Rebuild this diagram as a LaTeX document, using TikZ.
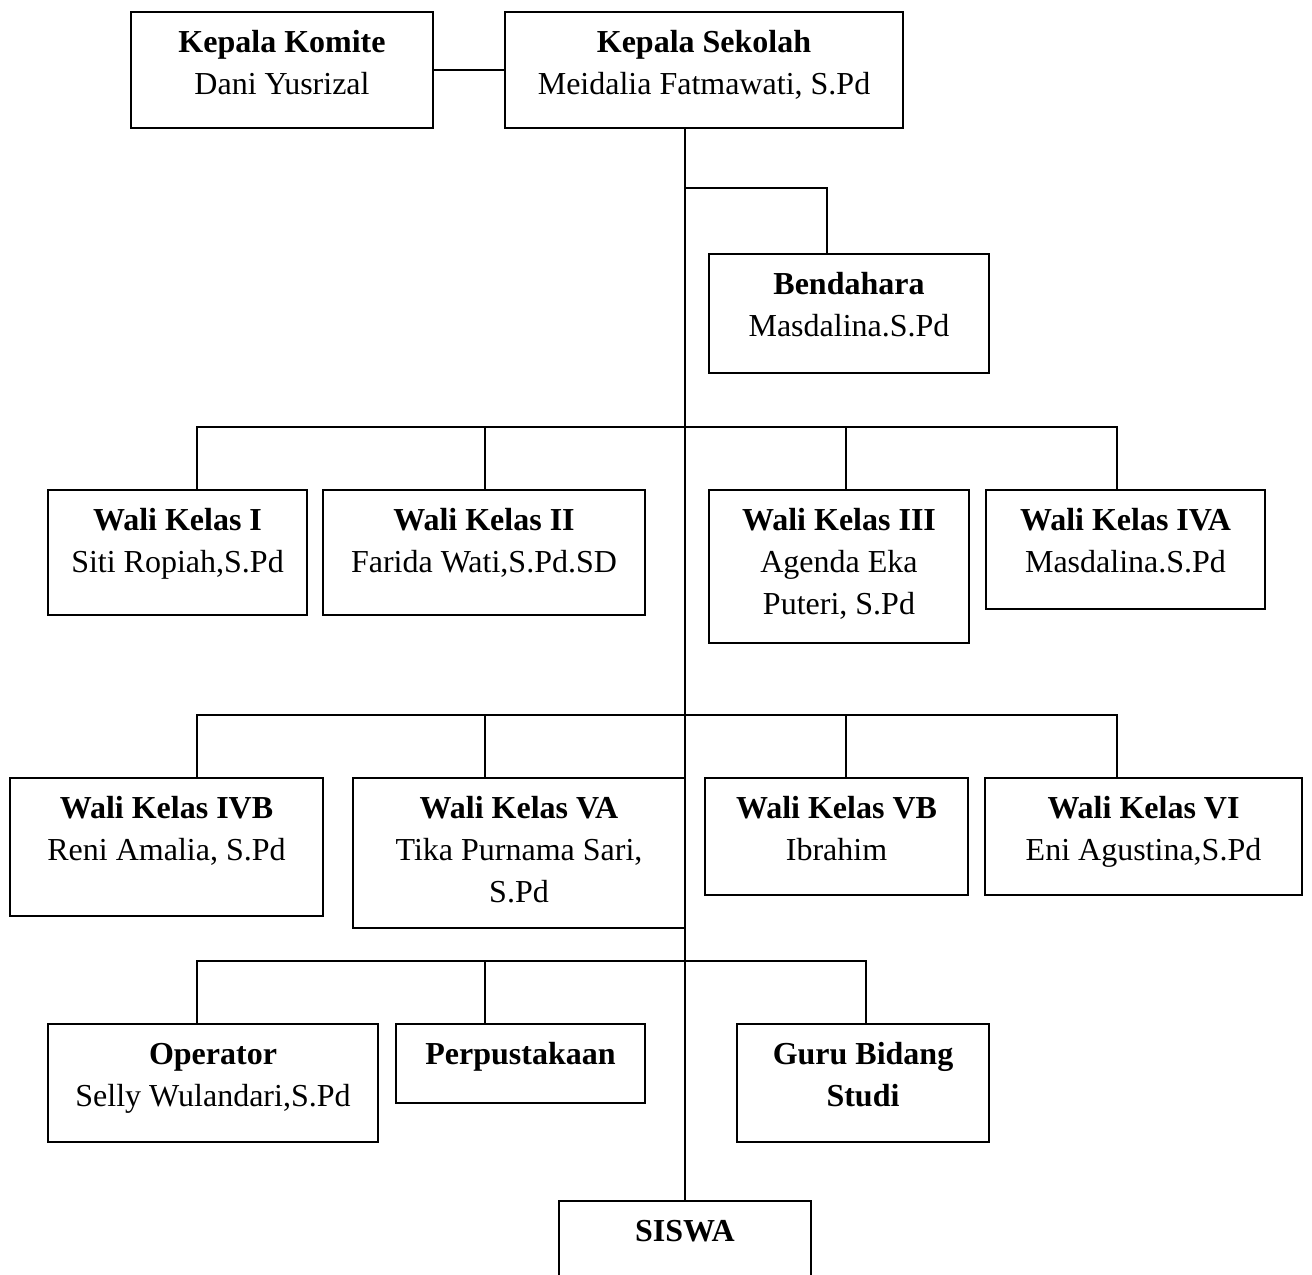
\documentclass[tikz,border=0pt]{standalone}
\usepackage{fontspec}
\setmainfont{Liberation Serif}
\usetikzlibrary{fit}
\begin{document}
\begin{tikzpicture}[x=0.75pt,y=-0.75pt,
  box/.style={draw=black,line width=1.5pt,inner sep=0pt,rectangle},
  txt/.style={anchor=north,align=center,inner sep=0pt,font=\fontsize{24}{31.5}\selectfont},
  conn/.style={draw=black,line width=1.4pt}]
\useasboundingbox (0,0) rectangle (1312,1274);
\clip (0,0) rectangle (1312,1274);
% boxes
\node[box,fit={(131,12) (433,128)}] (kom) {};
\node[box,fit={(505,12) (903,128)}] (sek) {};
\node[box,fit={(709,254) (989,373)}] (bend) {};
\node[box,fit={(48,490) (307,615)}] (w1) {};
\node[box,fit={(323,490) (645,615)}] (w2) {};
\node[box,fit={(709,490) (969,643)}] (w3) {};
\node[box,fit={(986,490) (1265,609)}] (w4a) {};
\node[box,fit={(10,778) (323,916)}] (w4b) {};
\node[box,fit={(353,778) (685,928)}] (w5a) {};
\node[box,fit={(705,778) (968,895)}] (w5b) {};
\node[box,fit={(985,778) (1302,895)}] (w6) {};
\node[box,fit={(48,1024) (378,1142)}] (op) {};
\node[box,fit={(396,1024) (645,1103)}] (perp) {};
\node[box,fit={(737,1024) (989,1142)}] (guru) {};
\node[box,fit={(559,1201) (811,1300)}] (siswa) {};
% texts
\node[txt] (komt) at ([yshift=-9pt]kom.north) {\strut\textbf{Kepala Komite}\\Dani Yusrizal};
\node[txt] (sekt) at ([yshift=-9pt]sek.north) {\strut\textbf{Kepala Sekolah}\\Meidalia Fatmawati, S.Pd};
\node[txt] (bendt) at ([yshift=-9pt]bend.north) {\strut\textbf{Bendahara}\\Masdalina.S.Pd};
\node[txt] (w1t) at ([yshift=-9pt]w1.north) {\strut\textbf{Wali Kelas I}\\Siti Ropiah,S.Pd};
\node[txt] (w2t) at ([yshift=-9pt]w2.north) {\strut\textbf{Wali Kelas II}\\Farida Wati,S.Pd.SD};
\node[txt] (w3t) at ([yshift=-9pt]w3.north) {\strut\textbf{Wali Kelas III}\\Agenda Eka\\Puteri, S.Pd};
\node[txt] (w4at) at ([yshift=-9pt]w4a.north) {\strut\textbf{Wali Kelas IVA}\\Masdalina.S.Pd};
\node[txt] (w4bt) at ([yshift=-9pt]w4b.north) {\strut\textbf{Wali Kelas IVB}\\Reni Amalia, S.Pd};
\node[txt] (w5at) at ([yshift=-9pt]w5a.north) {\strut\textbf{Wali Kelas VA}\\Tika Purnama Sari,\\S.Pd};
\node[txt] (w5bt) at ([yshift=-9pt]w5b.north) {\strut\textbf{Wali Kelas VB}\\Ibrahim};
\node[txt] (w6t) at ([yshift=-9pt]w6.north) {\strut\textbf{Wali Kelas VI}\\Eni Agustina,S.Pd};
\node[txt] (opt) at ([yshift=-9pt]op.north) {\strut\textbf{Operator}\\Selly Wulandari,S.Pd};
\node[txt] (perpt) at ([yshift=-9pt]perp.north) {\strut\textbf{Perpustakaan}};
\node[txt] (gurut) at ([yshift=-9pt]guru.north) {\strut\textbf{Guru Bidang}\\\textbf{Studi}};
\node[txt] (siswat) at ([yshift=-9pt]siswa.north) {\strut\textbf{SISWA}};
% column / row references
\coordinate (cA) at (197,0);
\coordinate (cB) at (485,0);
\coordinate (cC) at (846,0);
\coordinate (cD) at (1117,0);
\coordinate (cG) at (866,0);
\coordinate (cE) at (827,0);
\coordinate (r0) at (685,188);
\coordinate (r1) at (0,427);
\coordinate (r2) at (0,715);
\coordinate (r3) at (0,961);
% connectors
\draw[conn] (kom.east) -- (sek.west);
\draw[conn] (sek.south -| siswa.north) -- (siswa.north);
\draw[conn] (r0) -| (bend.north -| cE);
\draw[conn] (w1.north -| cA) -- (r1 -| cA) -- (r1 -| cD) -- (w4a.north -| cD);
\draw[conn] (r1 -| cB) -- (w2.north -| cB);
\draw[conn] (r1 -| cC) -- (w3.north -| cC);
\draw[conn] (w4b.north -| cA) -- (r2 -| cA) -- (r2 -| cD) -- (w6.north -| cD);
\draw[conn] (r2 -| cB) -- (w5a.north -| cB);
\draw[conn] (r2 -| cC) -- (w5b.north -| cC);
\draw[conn] (op.north -| cA) -- (r3 -| cA) -- (r3 -| cG) -- (guru.north -| cG);
\draw[conn] (r3 -| cB) -- (perp.north -| cB);
\end{tikzpicture}
\end{document}
